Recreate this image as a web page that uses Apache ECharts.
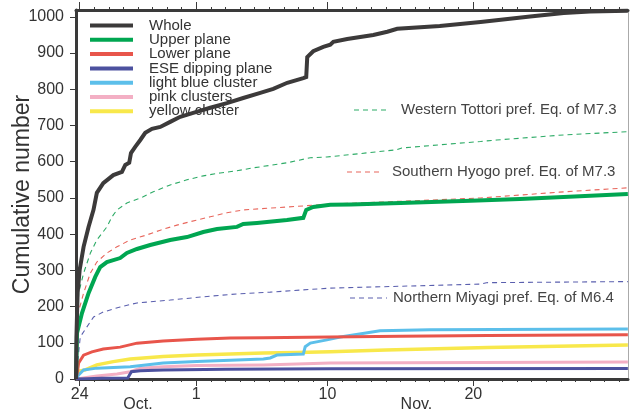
<!DOCTYPE html>
<html>
<head>
<meta charset="utf-8">
<script src="https://cdn.jsdelivr.net/npm/echarts@6/dist/echarts.min.js"></script>
<style>
  html, body { margin: 0; padding: 0; background: #fff; }
  #chart { width: 630px; height: 414px; }
</style>
</head>
<body>
<div id="chart"></div>
<script>
// Time is measured in days from Oct 24 00:00; the mainshock sits at about -0.25 (Oct 23 evening).
const dayTicks = [];
for (let d = 0; d <= 37; d++) dayTicks.push(d);
const majorTickDays = [0, 8, 17, 27];
const majorTickLabels = ['24', '1', '10', '20'];
const monthDays = [4.0, 23.1];
const monthLabels = ['Oct.', 'Nov.'];
const countTicks = [0, 100, 200, 300, 400, 500, 600, 700, 800, 900, 1000];

const seriesNames = ['Whole', 'Upper plane', 'Lower plane', 'ESE dipping plane',
  'light blue cluster', 'pink clusters', 'yellow cluster'];

// Cumulative event counts, [day, count]
const whole = [[-0.25, 0], [-0.22, 116], [-0.14, 237], [0.0, 301], [0.27, 365], [0.61, 420],
  [0.95, 467], [1.18, 514], [1.62, 541], [2.31, 563], [2.90, 572], [3.13, 591], [3.40, 597],
  [3.52, 624], [3.81, 641], [4.16, 660], [4.50, 680], [4.96, 691], [5.53, 696], [6.21, 710],
  [6.90, 724], [7.79, 735], [8.96, 749], [10.10, 762], [11.22, 776], [12.39, 790], [13.28, 801],
  [14.24, 818], [15.34, 831], [15.54, 834], [15.61, 889], [16.02, 905], [16.71, 917],
  [17.19, 923], [17.40, 931], [18.35, 939], [20.14, 950], [21.10, 959], [21.78, 967],
  [24.7, 975], [27.5, 986], [30.9, 1001], [33.2, 1011], [35.0, 1015], [37.6, 1017]];
const upperPlane = [[-0.25, 0], [-0.18, 127], [0.16, 182], [0.61, 237], [1.07, 282], [1.41, 309],
  [1.87, 323], [2.78, 334], [3.24, 348], [3.93, 359], [4.84, 370], [6.21, 384], [7.36, 392],
  [8.48, 406], [9.42, 414], [10.79, 420], [11.22, 428], [12.16, 431], [14.22, 439], [15.34, 445],
  [15.54, 467], [16.02, 475], [17.19, 481], [18.6, 482], [22.0, 486], [26.8, 492], [30.2, 497],
  [34.3, 505], [37.6, 511]];
const lowerPlane = [[-0.25, 0], [-0.15, 20], [-0.07, 44], [0.27, 66], [0.84, 75], [1.62, 83],
  [2.78, 88], [3.93, 99], [5.73, 105], [8.04, 110], [10.33, 113], [12.6, 114], [17.19, 116],
  [22.0, 118], [28.0, 120], [37.6, 122]];
const esePlane = [[-0.25, 0], [0.5, 1], [1.5, 2], [3.3, 3], [3.55, 20], [4.16, 23], [5.73, 25],
  [10.0, 27], [17.19, 28], [37.6, 29]];
const lightBlue = [[-0.25, 0], [-0.07, 11], [0.27, 25], [1.18, 30], [3.47, 34], [5.73, 44],
  [8.04, 48], [10.33, 52], [12.6, 55], [13.07, 58], [13.53, 66], [15.34, 69], [15.47, 89],
  [15.82, 99], [16.96, 108], [17.87, 116], [19.2, 124], [20.6, 133], [24.0, 136], [37.6, 138]];
const pink = [[-0.25, 0], [-0.18, 3], [1.18, 8], [2.56, 14], [3.47, 20], [4.16, 30], [5.73, 34],
  [8.04, 37], [12.6, 39], [17.19, 44], [37.6, 47]];
const yellow = [[-0.25, 0], [-0.22, 20], [0.38, 25], [1.18, 39], [2.31, 48], [3.47, 55],
  [5.73, 62], [8.04, 66], [10.33, 69], [12.6, 72], [14.9, 73], [17.19, 75], [21.0, 80],
  [28.0, 87], [37.6, 94]];

// Reference sequences of earlier earthquakes
const tottori = [[-0.25, 0], [-0.07, 237], [0.27, 292], [0.73, 347], [1.18, 384], [1.87, 420],
  [2.22, 448], [2.56, 467], [3.24, 486], [4.36, 503], [5.05, 517], [6.21, 536], [7.36, 550],
  [8.48, 561], [9.64, 569], [10.79, 575], [11.9, 583], [14.22, 597], [15.82, 611], [16.96, 613],
  [17.19, 614], [21.75, 633], [22.1, 638], [27.5, 656], [28.6, 660], [33.2, 674], [37.6, 683]];
const hyogo = [[-0.25, 0], [-0.18, 171], [0.27, 237], [0.73, 292], [1.18, 323], [1.87, 348],
  [2.56, 365], [3.47, 384], [4.62, 398], [5.53, 411], [6.67, 425], [8.04, 439], [8.96, 448],
  [10.1, 459], [11.22, 467], [13.07, 472], [15.34, 478], [17.19, 483], [24.0, 494], [27.5, 500],
  [32.9, 516], [37.6, 528]];
const miyagi = [[-0.25, 0], [0.04, 116], [0.50, 144], [0.95, 171], [1.62, 185], [2.78, 199],
  [3.93, 210], [6.21, 218], [8.48, 227], [10.79, 235], [13.07, 240], [17.19, 251], [27.5, 262],
  [27.9, 266], [37.6, 269]];

const colors = ['#3c3a3a', '#00a651', '#e8554b', '#4c519f', '#5cbfea', '#f3afc4', '#f8e84b'];
const widths = [4, 4, 3, 3, 3, 3, 3.5];
const solidData = [whole, upperPlane, lowerPlane, esePlane, lightBlue, pink, yellow];

const FONT = '"Liberation Sans", Arial, Helvetica, sans-serif';
const INK = '#3a3a3a';
const X_MIN = -0.25, X_MAX = 37.61;

const series = [];
// dashed reference curves underneath
[[tottori, '#2dab66'], [hyogo, '#e8665c'], [miyagi, '#5a5fae']].forEach(([d, c]) => {
  series.push({
    type: 'line', data: d, showSymbol: false, silent: true, z: 1,
    lineStyle: { color: c, width: 1.1, type: [5, 4] }
  });
});
// thin clusters first, Whole on top
const drawOrder = [6, 5, 4, 3, 2, 1, 0];
drawOrder.forEach(i => {
  series.push({
    name: seriesNames[i], type: 'line', data: solidData[i], showSymbol: false, silent: true,
    z: 2 + (6 - i), color: colors[i],
    lineStyle: { color: colors[i], width: widths[i], join: 'miter' }
  });
});

function xAx(extra) {
  return Object.assign({
    type: 'value', min: X_MIN, max: X_MAX, gridIndex: 0,
    splitLine: { show: false }, axisLine: { show: false },
    axisTick: { show: false }, axisLabel: { show: false }
  }, extra);
}

const option = {
  animation: false,
  backgroundColor: '#fff',
  grid: { left: 76, right: 2, top: 10, bottom: 35, containLabel: false, outerBoundsMode: 'none' },
  xAxis: [
    xAx({ position: 'bottom',
      axisLine: { show: true, onZero: false, lineStyle: { color: INK, width: 3 } },
      axisTick: { show: true, customValues: dayTicks, length: 3, lineStyle: { color: INK, width: 1 } } }),
    xAx({ position: 'bottom',
      axisTick: { show: true, customValues: majorTickDays, length: 7, lineStyle: { color: INK, width: 1 } },
      axisLabel: { show: true, customValues: majorTickDays, margin: 8, fontSize: 16, fontFamily: FONT, color: '#333',
        formatter: v => majorTickLabels[majorTickDays.indexOf(v)] } }),
    xAx({ position: 'bottom',
      axisLabel: { show: true, customValues: monthDays, margin: 18, fontSize: 16, fontFamily: FONT, color: '#333',
        formatter: v => monthLabels[monthDays.indexOf(v)] } }),
    xAx({ position: 'top',
      axisLine: { show: true, onZero: false, lineStyle: { color: INK, width: 3 } },
      axisTick: { show: true, customValues: dayTicks, length: 3, lineStyle: { color: INK, width: 1 } } }),
    xAx({ position: 'top',
      axisTick: { show: true, customValues: majorTickDays, length: 8, lineStyle: { color: INK, width: 1 } } })
  ],
  yAxis: [
    { type: 'value', min: 0, max: 1019, position: 'left',
      splitLine: { show: false },
      axisLine: { show: true, onZero: false, lineStyle: { color: INK, width: 3 } },
      axisTick: { show: true, customValues: countTicks, length: 6, lineStyle: { color: INK, width: 1 } },
      axisLabel: { customValues: countTicks, margin: 12, fontSize: 16, fontFamily: FONT, color: '#333',
        formatter: v => String(v) },
      name: 'Cumulative number', nameLocation: 'middle', nameGap: 42, nameMoveOverlap: false,
      nameTextStyle: { fontSize: 23, fontFamily: FONT, color: '#333' } },
    { type: 'value', min: 0, max: 1019, position: 'right',
      splitLine: { show: false },
      axisLine: { show: true, onZero: false, lineStyle: { color: '#aaa', width: 1 } },
      axisTick: { show: false }, axisLabel: { show: false } }
  ],
  legend: {
    orient: 'vertical', left: 90, top: 18, padding: 0,
    itemWidth: 43, itemHeight: 4, itemGap: -0.7,
    data: seriesNames.map(n => ({ name: n, icon: 'rect' })),
    textStyle: { fontSize: 15, fontFamily: FONT, color: '#333', lineHeight: 12.8, padding: [0, 0, 0, 11] },
    selectedMode: false
  },
  graphic: [
    { type: 'line', shape: { x1: 354, y1: 110, x2: 390, y2: 110 },
      style: { stroke: '#2dab66', lineWidth: 1.1, lineDash: [5, 4] } },
    { type: 'text', x: 401, y: 110,
      style: { text: 'Western Tottori pref. Eq. of M7.3', font: '15px ' + FONT, fill: '#444', verticalAlign: 'middle' } },
    { type: 'line', shape: { x1: 347, y1: 172, x2: 383, y2: 172 },
      style: { stroke: '#e8665c', lineWidth: 1.1, lineDash: [5, 4] } },
    { type: 'text', x: 392, y: 172,
      style: { text: 'Southern Hyogo pref. Eq. of M7.3', font: '15px ' + FONT, fill: '#444', verticalAlign: 'middle' } },
    { type: 'line', shape: { x1: 350, y1: 298, x2: 387, y2: 298 },
      style: { stroke: '#5a5fae', lineWidth: 1.1, lineDash: [5, 4] } },
    { type: 'text', x: 393, y: 298,
      style: { text: 'Northern Miyagi pref. Eq. of M6.4', font: '15px ' + FONT, fill: '#444', verticalAlign: 'middle' } }
  ],
  series: series
};

const chart = echarts.init(document.getElementById('chart'), null, { renderer: 'canvas' });
chart.setOption(option);
</script>
</body>
</html>
